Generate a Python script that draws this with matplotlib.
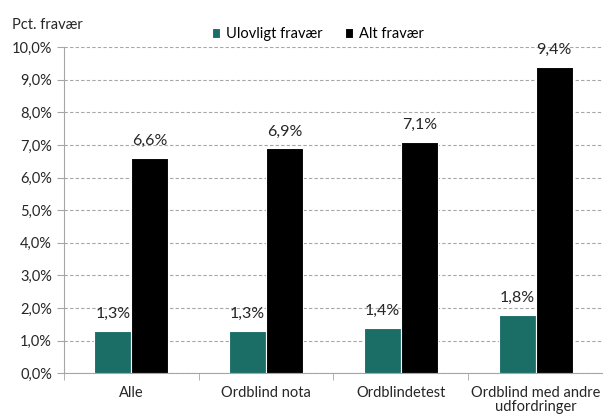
import numpy as np
import matplotlib.pyplot as plt
from matplotlib.ticker import FuncFormatter

categories = ["Alle", "Ordblind nota", "Ordblindetest", "Ordblind med andre\nudfordringer"]
ulovligt = [1.3, 1.3, 1.4, 1.8]
alt = [6.6, 6.9, 7.1, 9.4]
series_names = ["Ulovligt fravær", "Alt fravær"]

teal = "#1b6e66"
plt.rcParams["font.family"] = ["Lato", "DejaVu Sans"]

fig = plt.figure(figsize=(6.03, 4.17), dpi=100)
ax = fig.add_axes([0.106, 0.105, 0.894, 0.782])

x = np.arange(len(categories))
w = 0.275
b1 = ax.bar(x - w / 2, ulovligt, w, color=teal, edgecolor="white", linewidth=0.8,
            label=series_names[0], zorder=3)
b2 = ax.bar(x + w / 2, alt, w, color="black", edgecolor="white", linewidth=0.8,
            label=series_names[1], zorder=3)

fmt = lambda v: f"{v:.1f}%".replace(".", ",")
for bars in (b1, b2):
    for r in bars:
        ax.text(r.get_x() + r.get_width() / 2, r.get_height() + 0.3, fmt(r.get_height()),
                ha="center", va="bottom", fontsize=11.5, color="#262626")

ax.set_xlim(-0.5, len(categories) - 0.5)
ax.set_ylim(0, 10)
ax.set_yticks(np.arange(0, 11, 1))
ax.yaxis.set_major_formatter(FuncFormatter(lambda v, p: fmt(v)))
ax.yaxis.grid(True, linestyle=(0, (3, 2)), color="#a6a6a6", linewidth=0.8, zorder=0)

ax.set_xticks(x)
ax.set_xticklabels(categories, fontsize=10.5, color="#262626", linespacing=1.05)
ax.set_xticks(np.arange(-0.5, len(categories)), minor=True)
ax.tick_params(axis="x", which="major", length=0, pad=9)
ax.tick_params(axis="x", which="minor", length=5, color="#a6a6a6", direction="out")
ax.tick_params(axis="y", length=5, color="#a6a6a6", labelsize=10.5, labelcolor="#262626")

for s in ("top", "right"):
    ax.spines[s].set_visible(False)
for s in ("left", "bottom"):
    ax.spines[s].set_color("#a6a6a6")

fig.text(0.02, 0.94, "Pct. fravær", fontsize=10.5, color="#262626", va="center")
fig.legend(loc="center", bbox_to_anchor=(0.527, 0.918), ncol=2, frameon=False,
           fontsize=10.5, handlelength=0.6, handleheight=0.6, columnspacing=1.5,
           handletextpad=0.4)

fig.savefig("out.png", dpi=100)
